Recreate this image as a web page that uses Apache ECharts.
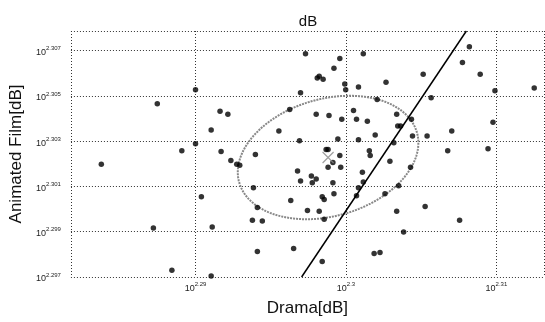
<!DOCTYPE html>
<html>
<head>
<meta charset="utf-8">
<script src="https://cdn.jsdelivr.net/npm/echarts@6/dist/echarts.min.js"></script>
<style>html,body{margin:0;padding:0;background:#fff}#c{width:545px;height:322px}</style>
</head>
<body>
<div id="c"></div>
<script>
// exponent values (axes are log10 of dB)
const dramaExp = [2.29731,2.29000,2.28746,2.29163,2.29215,2.29698,2.29626,2.29104,2.29554,2.29691,
2.29000,2.28909,2.29170,2.29398,2.29959,2.30115,2.29920,2.29822,2.29809,2.29848,
2.29992,2.29998,2.30083,2.30266,2.30513,2.30820,2.30774,2.30892,2.30990,2.31251,
2.30566,2.30207,2.29802,2.29887,2.29972,2.30050,2.30070,2.30142,2.30337,2.30435,
2.30344,2.30363,2.30194,2.29946,2.30083,2.30318,2.30442,2.30539,2.30703,2.30977,
2.30155,2.30161,2.29959,2.30676,2.30944,2.28374,2.29235,2.29274,2.29294,2.29678,
2.29698,2.29385,2.29039,2.29633,2.29411,2.29744,2.29378,2.29444,2.28720,2.29111,
2.29411,2.29652,2.28843,2.29104,2.29868,2.29881,2.29913,2.29881,2.29965,2.30292,
2.30429,2.30109,2.29770,2.29802,2.29776,2.29913,2.30115,2.30083,2.30350,2.29842,
2.29855,2.29920,2.30070,2.30259,2.29822,2.29855,2.30337,2.30526,2.30755,2.30383,
2.30187,2.30226,2.29842];
const animExp = [2.30687,2.30527,2.30466,2.30432,2.30419,2.30514,2.30440,2.30349,2.30345,2.30302,
2.30289,2.30258,2.30254,2.30241,2.30665,2.30687,2.30622,2.30587,2.30579,2.30574,
2.30553,2.30527,2.30540,2.30561,2.30596,2.30717,2.30648,2.30596,2.30523,2.30535,
2.30492,2.30484,2.30419,2.30414,2.30397,2.30436,2.30397,2.30388,2.30419,2.30397,
2.30367,2.30367,2.30328,2.30310,2.30306,2.30293,2.30323,2.30323,2.30345,2.30384,
2.30258,2.30237,2.30237,2.30258,2.30267,2.30198,2.30215,2.30198,2.30194,2.30168,
2.30124,2.30094,2.30055,2.30038,2.30007,2.29994,2.29951,2.29947,2.29917,2.29921,
2.29813,2.29826,2.29730,2.29704,2.30263,2.30263,2.30206,2.30185,2.30185,2.30211,
2.30185,2.30163,2.30146,2.30133,2.30116,2.30116,2.30120,2.30094,2.30103,2.30055,
2.30042,2.30068,2.30059,2.30068,2.29990,2.29955,2.29990,2.30012,2.29951,2.29899,
2.29804,2.29808,2.29769];
const xTickExp = [2.29, 2.30, 2.31];
const yTickExp = [2.297, 2.299, 2.301, 2.303, 2.305, 2.307];
const xTickLabels = ['2.29', '2.3', '2.31'];
const yTickLabels = ['2.297', '2.299', '2.301', '2.303', '2.305', '2.307'];
const fitLine = [[2.29705, 2.29700], [2.30800, 2.30787]];
const meanPoint = [2.29881, 2.30228];
const ellipseAxisA = [0.006001, 0.000649];
const ellipseAxisB = [0.0, -0.002649];

const xMin = 2.28172, xMax = 2.31316, yMin = 2.297, yMax = 2.30787;

const pts = dramaExp.map((x, i) => [x, animExp[i]]);
const ell = [];
for (let k = 0; k <= 180; k++) {
  const t = k / 180 * Math.PI * 2;
  ell.push([meanPoint[0] + ellipseAxisA[0] * Math.cos(t) + ellipseAxisB[0] * Math.sin(t),
            meanPoint[1] + ellipseAxisA[1] * Math.cos(t) + ellipseAxisB[1] * Math.sin(t)]);
}

const font = 'Liberation Sans, Arial, sans-serif';
const rich = {
  b: {fontSize: 9, fontFamily: font, color: '#222', padding: [4, 0, 0, 0]},
  s: {fontSize: 6, fontFamily: font, color: '#222', padding: [0, 0, 4, 0]}
};
function fmt(labels, ticks) {
  return function (v) {
    for (let i = 0; i < ticks.length; i++) if (Math.abs(v - ticks[i]) < 1e-7) return '{b|10}{s|' + labels[i] + '}';
    return '';
  };
}
const gridLine = {show: true, lineStyle: {type: [1, 2], color: '#333', width: 1}};

const chart = echarts.init(document.getElementById('c'));
chart.setOption({
  animation: false,
  backgroundColor: '#fff',
  title: {text: 'dB', left: 303, top: 9, textAlign: 'center',
    textStyle: {fontFamily: font, fontSize: 15, fontWeight: 'normal', color: '#111'}},
  grid: {left: 62, right: 1, top: 31, bottom: 40},
  xAxis: {
    type: 'value', min: xMin, max: xMax,
    name: 'Drama[dB]', nameLocation: 'middle', nameGap: 23,
    nameTextStyle: {fontFamily: font, fontSize: 17, color: '#111'},
    axisLine: {show: false}, axisTick: {show: false, customValues: [xMin].concat(xTickExp, [xMax])},
    splitLine: gridLine,
    axisLabel: {customValues: xTickExp, formatter: fmt(xTickLabels, xTickExp), rich: rich, margin: 3}
  },
  yAxis: {
    type: 'value', min: yMin, max: yMax,
    name: 'Animated Film[dB]', nameLocation: 'middle', nameGap: 25,
    nameTextStyle: {fontFamily: font, fontSize: 17, color: '#111'},
    axisLine: {show: false}, axisTick: {show: false, customValues: yTickExp.concat([yMax])},
    splitLine: gridLine,
    axisLabel: {customValues: yTickExp, formatter: fmt(yTickLabels, yTickExp), rich: rich, margin: 10}
  },
  series: [
    {type: 'line', data: ell, showSymbol: false, symbol: 'none', smooth: false, z: 2,
      lineStyle: {color: '#888', width: 2, type: [2, 1]}},
    {type: 'line', data: fitLine, showSymbol: false, symbol: 'none', z: 3,
      lineStyle: {color: '#000', width: 1.5}},
    {type: 'scatter', data: pts, symbol: 'circle', symbolSize: 5.5, z: 4,
      itemStyle: {color: '#000'}},
    {type: 'scatter', data: [meanPoint], symbol: 'path://M0,0L10,10M10,0L0,10', symbolSize: 11, z: 5,
      itemStyle: {color: 'rgba(0,0,0,0)', borderColor: '#888', borderWidth: 1.2}}
  ]
});
</script>
</body>
</html>
